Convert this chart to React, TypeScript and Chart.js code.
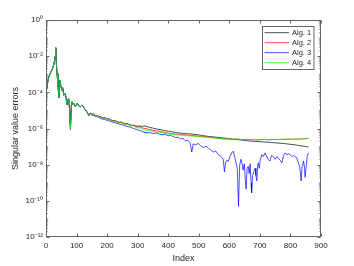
import React, { useEffect, useRef } from "react";
import { Chart, registerables } from "chart.js";

Chart.register(...registerables);

// Index positions shared by Alg. 1, Alg. 2 and Alg. 4
const idxMain = [
  1, 5, 9, 13, 16, 20, 25, 28, 30, 32,
  34, 36, 39, 42, 45, 48, 52, 55, 58, 63,
  66, 69, 72, 74, 77, 80, 83, 85, 88, 91,
  96, 99, 102, 107, 112, 118, 124, 129, 135, 140,
  146, 152, 156, 162, 168, 173, 180, 187, 194, 200,
  206, 212, 220, 226, 232, 240, 246, 252, 260, 266,
  272, 280, 286, 292, 300, 308, 316, 324, 332, 340,
  350, 360, 370, 380, 390, 400, 412, 424, 436, 448,
  460, 472, 484, 496, 508, 520, 535, 550, 565, 580,
  595, 610, 625, 640, 655, 670, 685, 700, 715, 730,
  745, 760, 775, 790, 805, 820, 835, 850, 859,
];

const alg1 = [
  1.1e-4, 3.1e-4, 7.2e-4, 1.0e-3, 1.35e-3, 1.75e-3, 3.2e-3, 5.6e-3, 1.0e-2, 2.9e-2,
  4.1e-3, 1.1e-3, 3.1e-4, 4.9e-5, 4.7e-4, 2.6e-4, 1.3e-4, 1.75e-4, 6.8e-5, 8.8e-5,
  4.4e-5, 2.0e-5, 4.0e-5, 4.6e-5, 1.25e-5, 9.0e-7, 2.0e-5, 3.0e-5, 2.25e-5, 2.5e-5,
  1.6e-5, 2.0e-5, 2.5e-5, 1.8e-5, 1.55e-5, 2.0e-5, 1.45e-5, 1.05e-5, 8.0e-6, 5.6e-6,
  7.2e-6, 6.1e-6, 6.4e-6, 5.1e-6, 5.3e-6, 4.6e-6, 4.3e-6, 3.8e-6, 4.0e-6, 3.4e-6,
  3.5e-6, 3.0e-6, 2.7e-6, 2.8e-6, 2.4e-6, 2.2e-6, 2.3e-6, 2.0e-6, 1.85e-6, 1.9e-6,
  1.65e-6, 1.45e-6, 1.5e-6, 1.4e-6, 1.35e-6, 1.38e-6, 1.3e-6, 1.38e-6, 1.25e-6, 1.15e-6,
  1.05e-6, 9.5e-7, 8.9e-7, 8.3e-7, 7.6e-7, 7.1e-7, 6.6e-7, 6.0e-7, 5.6e-7, 5.4e-7,
  5.1e-7, 5.0e-7, 4.8e-7, 4.5e-7, 4.2e-7, 3.9e-7, 3.6e-7, 3.4e-7, 3.2e-7, 3.0e-7,
  2.8e-7, 2.6e-7, 2.45e-7, 2.3e-7, 2.15e-7, 2.0e-7, 1.95e-7, 1.85e-7, 1.8e-7, 1.75e-7,
  1.65e-7, 1.55e-7, 1.5e-7, 1.4e-7, 1.3e-7, 1.2e-7, 1.1e-7, 1.0e-7, 9.5e-8,
];

const alg2 = [
  1.07e-4, 3.2e-4, 7.0e-4, 1.0e-3, 1.3e-3, 1.8e-3, 3.1e-3, 5.5e-3, 9.8e-3, 2.9e-2,
  4.0e-3, 1.1e-3, 3.0e-4, 5.2e-5, 4.6e-4, 2.5e-4, 1.3e-4, 1.8e-4, 7.0e-5, 8.5e-5,
  4.5e-5, 2.1e-5, 3.9e-5, 4.5e-5, 1.3e-5, 9.5e-7, 2.0e-5, 3.0e-5, 2.3e-5, 2.4e-5,
  1.6e-5, 2.0e-5, 2.4e-5, 1.8e-5, 1.6e-5, 2.0e-5, 1.4e-5, 1.1e-5, 8.1e-6, 5.8e-6,
  7.0e-6, 6.2e-6, 6.0e-6, 5.2e-6, 5.4e-6, 4.6e-6, 4.3e-6, 3.8e-6, 3.9e-6, 3.3e-6,
  3.4e-6, 2.9e-6, 2.6e-6, 2.7e-6, 2.3e-6, 2.1e-6, 2.2e-6, 1.9e-6, 1.75e-6, 1.8e-6,
  1.6e-6, 1.5e-6, 1.55e-6, 1.35e-6, 1.2e-6, 1.25e-6, 1.05e-6, 1.0e-6, 9.5e-7, 8.7e-7,
  8.0e-7, 7.4e-7, 7.1e-7, 6.6e-7, 6.0e-7, 5.6e-7, 5.2e-7, 4.9e-7, 4.7e-7, 4.5e-7,
  4.4e-7, 4.2e-7, 4.1e-7, 3.8e-7, 3.6e-7, 3.5e-7, 3.3e-7, 3.1e-7, 2.9e-7, 2.6e-7,
  2.7e-7, 2.5e-7, 2.6e-7, 2.4e-7, 2.5e-7, 2.45e-7, 2.35e-7, 2.4e-7, 2.5e-7, 2.4e-7,
  2.5e-7, 2.45e-7, 2.55e-7, 2.5e-7, 2.6e-7, 2.55e-7, 2.65e-7, 2.7e-7, 2.8e-7,
];

const alg4 = [
  1.07e-4, 3.16e-4, 7.08e-4, 1.0e-3, 1.35e-3, 1.78e-3, 3.16e-3, 5.62e-3, 1.0e-2, 2.95e-2,
  3.98e-3, 1.1e-3, 3.09e-4, 5.01e-5, 4.68e-4, 2.51e-4, 1.32e-4, 1.78e-4, 6.92e-5, 8.71e-5,
  4.47e-5, 2.0e-5, 3.98e-5, 4.57e-5, 1.26e-5, 9.12e-7, 2.0e-5, 3.02e-5, 2.24e-5, 2.45e-5,
  1.58e-5, 2.0e-5, 2.45e-5, 1.78e-5, 1.58e-5, 2.0e-5, 1.41e-5, 1.05e-5, 7.94e-6, 5.5e-6,
  7.08e-6, 6.03e-6, 6.31e-6, 5.01e-6, 5.25e-6, 4.47e-6, 4.17e-6, 3.63e-6, 3.8e-6, 3.16e-6,
  3.31e-6, 2.75e-6, 2.51e-6, 2.63e-6, 2.24e-6, 2.0e-6, 2.09e-6, 1.82e-6, 1.66e-6, 1.74e-6,
  1.51e-6, 1.38e-6, 1.45e-6, 1.2e-6, 1.05e-6, 1.1e-6, 8.91e-7, 7.94e-7, 8.32e-7, 7.59e-7,
  6.92e-7, 6.31e-7, 6.46e-7, 5.89e-7, 5.37e-7, 5.01e-7, 4.79e-7, 4.47e-7, 4.37e-7, 4.17e-7,
  3.98e-7, 3.89e-7, 3.72e-7, 3.55e-7, 3.47e-7, 3.31e-7, 3.16e-7, 3.02e-7, 2.82e-7, 2.69e-7,
  2.69e-7, 2.51e-7, 2.63e-7, 2.51e-7, 2.4e-7, 2.51e-7, 2.4e-7, 2.34e-7, 2.51e-7, 2.4e-7,
  2.45e-7, 2.51e-7, 2.51e-7, 2.63e-7, 2.51e-7, 2.57e-7, 2.69e-7, 2.75e-7, 2.82e-7,
];

// Alg. 3 has its own (denser) index positions
const idxAlg3 = [
  1, 5, 9, 13, 16, 20, 25, 28, 30, 32,
  34, 36, 39, 42, 45, 48, 52, 55, 58, 63,
  66, 69, 72, 74, 77, 80, 83, 85, 88, 91,
  96, 99, 102, 107, 112, 118, 124, 129,
  135, 140, 146, 152, 160, 168, 176, 184, 192, 200,
  210, 220, 230, 240, 250, 260, 270, 280, 290, 300,
  310, 320, 330, 340, 350, 360, 370, 380, 390, 400,
  408, 416, 424, 432, 440, 448, 456, 464, 472, 477,
  482, 490, 498, 506, 515, 524, 532, 540, 548, 556,
  564, 570, 576, 580, 584, 588, 592, 597, 603, 608,
  613, 618, 622, 626, 630, 634, 638, 641, 645, 649,
  652, 655, 658, 662, 665, 668, 671, 673, 676, 680,
  684, 687, 690, 693, 695, 698, 701, 706, 711, 717,
  722, 727, 733, 738, 744, 750, 756, 761, 766, 772,
  777, 783, 788, 794, 799, 805, 810, 815, 820, 825,
  830, 833, 835, 838, 843, 846, 848, 852, 855, 859,
];

const alg3 = [
  1.07e-4, 3.16e-4, 7.1e-4, 1.0e-3, 1.35e-3, 1.78e-3, 3.16e-3, 5.6e-3, 1.0e-2, 2.95e-2,
  4.0e-3, 1.1e-3, 3.1e-4, 5.0e-5, 4.7e-4, 2.5e-4, 1.3e-4, 1.8e-4, 6.9e-5, 8.7e-5,
  4.5e-5, 2.0e-5, 4.0e-5, 4.6e-5, 1.26e-5, 9.1e-7, 2.0e-5, 3.0e-5, 2.2e-5, 2.45e-5,
  1.6e-5, 2.0e-5, 2.45e-5, 1.8e-5, 1.6e-5, 2.0e-5, 1.4e-5, 1.05e-5,
  7.59e-6, 5.01e-6, 6.31e-6, 5.25e-6, 5.0e-6, 4.37e-6, 3.8e-6, 3.31e-6, 3.16e-6, 2.82e-6,
  2.51e-6, 2.19e-6, 2.0e-6, 1.74e-6, 1.58e-6, 1.38e-6, 1.26e-6, 1.12e-6, 9.55e-7, 8.32e-7,
  7.59e-7, 6.31e-7, 5.75e-7, 6.03e-7, 5.25e-7, 5.62e-7, 5.01e-7, 4.47e-7, 4.79e-7, 3.98e-7,
  4.17e-7, 3.55e-7, 3.16e-7, 3.31e-7, 2.63e-7, 2.82e-7, 2.09e-7, 2.24e-7, 1.58e-7, 5.01e-8,
  1.41e-7, 1.26e-7, 1.51e-7, 1.12e-7, 8.91e-8, 1.05e-7, 7.94e-8, 6.31e-8, 5.01e-8, 5.62e-8,
  3.55e-8, 3.16e-8, 2.51e-8, 2.0e-8, 3.98e-9, 1.41e-8, 1.78e-8, 1.51e-8, 3.16e-8, 4.47e-8,
  5.62e-8, 2.51e-8, 1.26e-8, 6.31e-9, 5.01e-11, 1.0e-8, 2.0e-8, 1.26e-8, 5.01e-9, 1.12e-8,
  1.58e-9, 4.47e-10, 6.31e-9, 7.94e-9, 3.16e-9, 1.12e-8, 1.0e-9, 2.82e-10, 2.51e-9, 3.98e-9,
  6.31e-9, 2.51e-9, 1.26e-9, 1.0e-8, 1.26e-8, 6.31e-9, 1.78e-8, 3.55e-8, 2.82e-8, 4.47e-8,
  2.82e-8, 2.0e-8, 1.58e-8, 3.16e-8, 2.82e-8, 2.0e-8, 2.82e-8, 2.24e-8, 1.78e-8, 1.26e-8,
  3.16e-8, 4.47e-8, 3.55e-8, 3.98e-8, 3.55e-8, 2.82e-8, 3.16e-8, 2.82e-8, 2.51e-8, 1.41e-8,
  7.94e-9, 3.16e-9, 1.26e-9, 7.94e-9, 1.58e-8, 6.31e-9, 2.0e-9, 1.0e-8, 2.82e-8, 4.47e-8,
];

const seriesNames = ["Alg. 1", "Alg. 2", "Alg. 3", "Alg. 4"];
const seriesColors = ["#000000", "#ff0000", "#0000ff", "#00ff00"];

const xTickValues = [0, 100, 200, 300, 400, 500, 600, 700, 800, 900];
const yTickValues = [1e-12, 1e-10, 1e-8, 1e-6, 1e-4, 1e-2, 1];
const yTickLabels = ["10⁻¹²", "10⁻¹⁰", "10⁻⁸", "10⁻⁶", "10⁻⁴", "10⁻²", "10⁰"];

const xTitle = "Index";
const yTitle = "Singular value errors";

const FONT = "'Liberation Sans', Arial, Helvetica, sans-serif";
const AXIS_COLOR = "#262626";
const FRAME_COLOR = "#666666";

const framePlugin = {
  id: "matlabFrame",
  afterDraw(chart: any) {
    const { ctx, chartArea: a, scales } = chart;
    const xs = scales.x;
    const ys = scales.y;
    ctx.save();
    const L = Math.round(a.left) + 0.5;
    const R = Math.round(a.right) - 0.5;
    const T = Math.round(a.top) + 0.5;
    const B = Math.round(a.bottom) - 0.5;
    ctx.strokeStyle = FRAME_COLOR;
    ctx.lineWidth = 1;
    ctx.strokeRect(L, T, R - L, B - T);

    ctx.beginPath();
    for (const v of xTickValues) {
      const px = Math.round(xs.getPixelForValue(v)) + 0.5;
      ctx.moveTo(px, B);
      ctx.lineTo(px, B - 3);
      ctx.moveTo(px, T);
      ctx.lineTo(px, T + 3);
    }
    for (const v of yTickValues) {
      const py = Math.round(ys.getPixelForValue(v)) + 0.5;
      ctx.moveTo(L, py);
      ctx.lineTo(L + 3, py);
      ctx.moveTo(R, py);
      ctx.lineTo(R - 3, py);
    }
    ctx.stroke();

    ctx.beginPath();
    ctx.lineWidth = 0.6;
    for (let e = -12; e < 0; e++) {
      for (let m = 1; m <= 9; m++) {
        if (m === 1 && e % 2 === 0) continue;
        const v = m * Math.pow(10, e);
        const py = ys.getPixelForValue(v);
        ctx.moveTo(L, py);
        ctx.lineTo(L + 1.6, py);
        ctx.moveTo(R, py);
        ctx.lineTo(R - 1.6, py);
      }
    }
    ctx.stroke();

    const bx = 262.5, by = 26.5, bw = 51.5, bh = 43;
    ctx.fillStyle = "#ffffff";
    ctx.fillRect(bx, by, bw, bh);
    ctx.strokeStyle = FRAME_COLOR;
    ctx.lineWidth = 1;
    ctx.strokeRect(bx, by, bw, bh);
    ctx.font = `7.5px ${FONT}`;
    ctx.textBaseline = "middle";
    ctx.textAlign = "left";
    seriesNames.forEach((name, i) => {
      const yy = 32.7 + i * 10;
      ctx.strokeStyle = seriesColors[i];
      ctx.lineWidth = 0.7;
      ctx.beginPath();
      ctx.moveTo(264.5, yy);
      ctx.lineTo(289, yy);
      ctx.stroke();
      ctx.fillStyle = AXIS_COLOR;
      ctx.fillText(name, 292, yy + 0.5);
    });
    ctx.restore();
  },
};

export default function App() {
  const canvasRef = useRef<HTMLCanvasElement | null>(null);

  useEffect(() => {
    document.body.style.margin = "0";
    const canvas = canvasRef.current;
    if (!canvas) return;

    const mk = (xs: number[], ys: number[]) => xs.map((x, i) => ({ x, y: ys[i] }));
    const seriesData = [mk(idxMain, alg1), mk(idxMain, alg2), mk(idxAlg3, alg3), mk(idxMain, alg4)];

    const chart = new Chart(canvas, {
      type: "line",
      data: {
        datasets: seriesData.map((d, i) => ({
          label: seriesNames[i],
          data: d,
          borderColor: seriesColors[i],
          backgroundColor: seriesColors[i],
          borderWidth: 0.7,
          pointRadius: 0,
          fill: false,
          tension: 0,
          order: 3 - i,
        })),
      },
      options: {
        animation: false,
        responsive: false,
        maintainAspectRatio: false,
        layout: { padding: { left: 0, right: 33, top: 20, bottom: 0 } },
        plugins: {
          legend: { display: false },
          tooltip: { enabled: false },
        },
        scales: {
          x: {
            type: "linear",
            min: 0,
            max: 900,
            afterBuildTicks: (s: any) => {
              s.ticks = xTickValues.map((v) => ({ value: v }));
            },
            afterFit: (s: any) => {
              s.height = 29;
            },
            grid: { display: false, drawTicks: false },
            border: { display: false },
            ticks: {
              color: AXIS_COLOR,
              font: { family: FONT, size: 8 },
              padding: 4,
              maxRotation: 0,
              autoSkip: false,
            },
            title: {
              display: true,
              text: xTitle,
              color: AXIS_COLOR,
              font: { family: FONT, size: 9 },
              padding: { top: 0, bottom: 2 },
            },
          },
          y: {
            type: "logarithmic",
            min: 1e-12,
            max: 1,
            afterBuildTicks: (s: any) => {
              s.ticks = yTickValues.map((v) => ({ value: v }));
            },
            afterFit: (s: any) => {
              s.width = 46;
            },
            grid: { display: false, drawTicks: false },
            border: { display: false },
            ticks: {
              color: AXIS_COLOR,
              font: { family: FONT, size: 8 },
              padding: 3,
              autoSkip: false,
              callback: (_v: any, i: number) => yTickLabels[i],
            },
            title: {
              display: true,
              text: yTitle,
              color: AXIS_COLOR,
              font: { family: FONT, size: 9 },
              padding: { top: 10, bottom: 0 },
            },
          },
        },
      },
      plugins: [framePlugin],
    });

    return () => chart.destroy();
  }, []);

  return (
    <div style={{ width: 354, height: 266 }}>
      <canvas ref={canvasRef} width={354} height={266} style={{ display: "block" }} />
    </div>
  );
}
